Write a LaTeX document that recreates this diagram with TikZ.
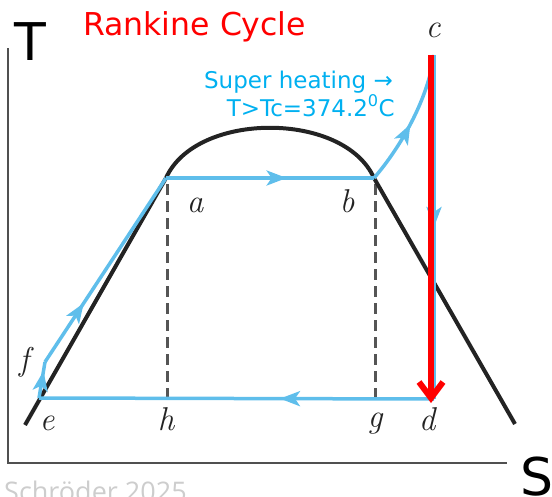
\documentclass[tikz,border=0pt]{standalone}
\usepackage{fontspec}
\newfontfamily\sansfont{DejaVu Sans}
\newfontfamily\wmfont{Open Sans}
\usetikzlibrary{arrows.meta,decorations.markings}
\definecolor{cycblue}{RGB}{95,190,235}
\definecolor{txtblue}{RGB}{0,176,240}
\definecolor{domeblack}{RGB}{35,35,35}
\definecolor{dashgray}{RGB}{85,85,85}
\definecolor{axisgray}{RGB}{80,80,80}
\definecolor{wmgray}{RGB}{205,205,205}
\definecolor{redline}{RGB}{255,0,0}
\begin{document}
\begin{tikzpicture}[x=1pt,y=-1pt,
  cycleline/.style={draw=cycblue,line width=3.5pt},
  midarrow/.style={postaction={decorate,decoration={markings,mark=at position #1 with {\arrow{Stealth[length=20pt,width=15pt,inset=5pt]}}}}},
  domeline/.style={draw=domeblack,line width=4pt,line join=round},
  dashline/.style={draw=dashgray,line width=3pt,dash pattern=on 11pt off 6pt},
  axisline/.style={draw=axisgray,line width=2.5pt},
  lbl/.style={font=\fontsize{33}{33}\selectfont\itshape,text=domeblack,inner sep=0pt,anchor=base},
  bigletter/.style={font=\sansfont\fontsize{52}{52}\selectfont,inner sep=0pt,anchor=base west},
  bluetxt/.style={font=\sansfont\fontsize{23}{26}\selectfont,text=txtblue,inner sep=0pt,anchor=base east}
]
\useasboundingbox (0,0) rectangle (552,496);
\clip (0,0) rectangle (552,496);
% points of the cycle
\coordinate (a) at (166,178);
\coordinate (b) at (374,178);
\coordinate (c) at (434,55);
\coordinate (d) at (434,399);
\coordinate (e) at (39,398);
\coordinate (f) at (45,362);
\coordinate (h) at (167,398);
\coordinate (g) at (375,398);
\coordinate (ha) at (167,184);
\coordinate (gb) at (375,184);
\coordinate (rc) at (431,55);
\coordinate (rd) at (431,403);
\coordinate (dl) at (25,425);
\coordinate (dr) at (515,424);
\coordinate (ax0) at (8,48);
\coordinate (ax1) at (8,463);
\coordinate (ax2) at (507,463);
% axes
\draw[axisline] (ax0) -- (ax1) -- (ax2);
% dashed verticals
\draw[dashline] (ha) -- (h);
\draw[dashline] (gb) -- (g);
% saturation dome
\draw[domeline] (dl) -- (a) .. controls (196,111) and (344,111) .. (b) -- (dr);
% cycle
\draw[cycleline,midarrow=0.58] (a) -- (b);
\draw[cycleline,midarrow=0.47] (b) .. controls (400,148) and (428,100) .. (c);
\draw[cycleline,midarrow=0.50] (c) -- (d);
\draw[cycleline,midarrow=0.39] (d) -- (e);
\draw[cycleline,midarrow=0.75] (e) -- (f);
\draw[cycleline,midarrow=0.32] (f) -- (a);
% red expansion arrow
\draw[draw=redline,line width=6pt,-{Straight Barb[length=16pt,width=24pt]}] (rc) -- (rd);
% labels
\node[lbl] (la) at (195,212) {a};
\node[lbl] (lb) at (347,212) {b};
\node[lbl] (lc) at (433,37) {c};
\node[lbl] (ld) at (427,430) {d};
\node[lbl] (le) at (47,430) {e};
\node[lbl] (lf) at (24,370) {f};
\node[lbl] (lg) at (375,427) {g};
\node[lbl] (lh) at (166,430) {h};
% titles
\node[font=\sansfont\fontsize{31.5}{36}\selectfont,text=redline,inner sep=0pt,anchor=base west] (title) at (83,35) {Rankine Cycle};
\node[bluetxt] (sh1) at (393,88) {Super heating →};
\node[bluetxt] (sh2) at (395,116) {T>Tc=374.2\textsuperscript{0}C};
\node[bigletter] (Tlab) at (14,60) {T};
\node[bigletter] (Slab) at (520,495) {S};
\node[font=\wmfont\fontsize{27}{30}\selectfont,text=wmgray,inner sep=0pt,anchor=base west] (wm) at (4,501) {Schröder 2025};
\end{tikzpicture}
\end{document}
